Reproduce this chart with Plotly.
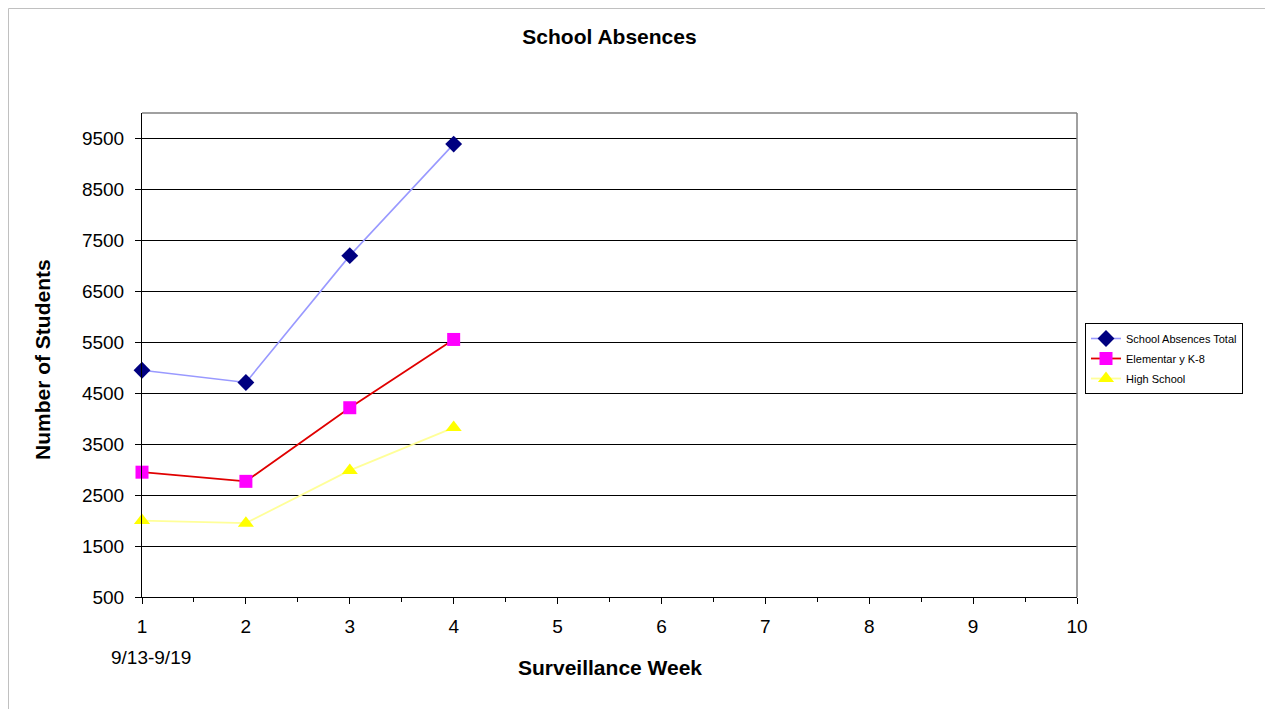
import plotly.graph_objects as go

weeks = [1, 2, 3, 4]
total = [4950, 4710, 7200, 9390]
elementary = [2950, 2770, 4215, 5555]
high_school = [2000, 1950, 2985, 3825]
y_ticks = [500, 1500, 2500, 3500, 4500, 5500, 6500, 7500, 8500, 9500]
x_ticks = [1, 2, 3, 4, 5, 6, 7, 8, 9, 10]

FONT = "Liberation Sans, Arial, sans-serif"

# page body has an 8px margin: figure starts at screen (8, 8)
OFF = 8
W, H = 1273 - OFF, 709 - OFF
PL, PR, PT, PB = 142, 1077, 113, 597   # plot area in screen pixels
PW, PH = PR - PL, PB - PT


def px(X):
    return (X - PL) / PW


def py(Y):
    return (PB - Y) / PH


fig = go.Figure()
fig.add_trace(go.Scatter(x=weeks, y=total, mode="lines+markers", name="School Absences Total",
                         legendgroup="a", cliponaxis=False,
                         line=dict(color="#9999FF", width=1.6),
                         marker=dict(symbol="diamond", size=13, color="#000080")))
fig.add_trace(go.Scatter(x=weeks, y=elementary, mode="lines+markers", name="Elementar y K-8",
                         legendgroup="b", cliponaxis=False,
                         line=dict(color="#E00000", width=1.8),
                         marker=dict(symbol="square", size=13, color="#FF00FF")))
fig.add_trace(go.Scatter(x=weeks, y=high_school, mode="lines+markers", name="High School",
                         legendgroup="c", cliponaxis=False,
                         line=dict(color="#FFFF99", width=1.8),
                         marker=dict(symbol="triangle-up", size=14, color="#FFFF00")))

fig.update_layout(
    width=W, height=H,
    margin=dict(l=PL - OFF, r=(W + OFF) - PR, t=PT - OFF, b=(H + OFF) - PB),
    paper_bgcolor="white", plot_bgcolor="white",
    font=dict(family=FONT, color="black"),
    title=dict(text="<b>School Absences</b>", x=0.5, xanchor="center", xref="paper",
               y=1 - (37 - OFF) / H, yanchor="middle", font=dict(size=21, family=FONT)),
    showlegend=True,
    legend=dict(x=px(1085), y=py(323), xanchor="left", yanchor="top",
                bordercolor="black", borderwidth=1, bgcolor="white",
                font=dict(size=11, family=FONT), tracegroupgap=1,
                entrywidth=135, entrywidthmode="pixels"),
    xaxis=dict(range=[1, 10], tickvals=x_ticks, ticktext=[str(v) for v in x_ticks],
               showgrid=False, zeroline=False, showline=True, linecolor="black", linewidth=1,
               ticks="outside", ticklen=6, tickcolor="black", ticklabelstandoff=6,
               minor=dict(dtick=0.5, ticks="outside", ticklen=4, tickcolor="black", showgrid=False),
               tickfont=dict(size=19, family=FONT)),
    yaxis=dict(range=[500, 10000], tickvals=y_ticks, ticktext=[str(v) for v in y_ticks],
               showgrid=True, gridcolor="black", gridwidth=1, zeroline=False,
               showline=True, linecolor="black", linewidth=1,
               ticks="outside", ticklen=6, tickcolor="black", ticklabelstandoff=7,
               tickfont=dict(size=19, family=FONT)),
)

# plot-area top & right borders (grey) and outer chart border
fig.add_shape(type="line", xref="paper", yref="paper", x0=0, x1=1, y0=1, y1=1,
              line=dict(color="#808080", width=1.5))
fig.add_shape(type="line", xref="paper", yref="paper", x0=1, x1=1, y0=0, y1=1,
              line=dict(color="#808080", width=1.5))
fig.add_shape(type="rect", xref="paper", yref="paper",
              x0=px(OFF + 0.5), x1=px(1290),
              y0=py(730), y1=py(OFF + 0.5),
              line=dict(color="#C0C0C0", width=1), layer="below")

fig.add_annotation(text="9/13-9/19", xref="x", x=1, xshift=9, yref="paper",
                   y=py(657), yanchor="middle", showarrow=False,
                   font=dict(size=19, family=FONT))
fig.add_annotation(text="<b>Surveillance Week</b>", xref="paper", x=0.5, yref="paper",
                   y=py(667), yanchor="middle", showarrow=False,
                   font=dict(size=21, family=FONT))
fig.add_annotation(text="<b>Number of Students</b>", xref="paper", x=px(42),
                   yref="paper", y=py(360), textangle=-90, xanchor="center",
                   yanchor="middle", showarrow=False, font=dict(size=21, family=FONT))

fig.write_html("out.html")
